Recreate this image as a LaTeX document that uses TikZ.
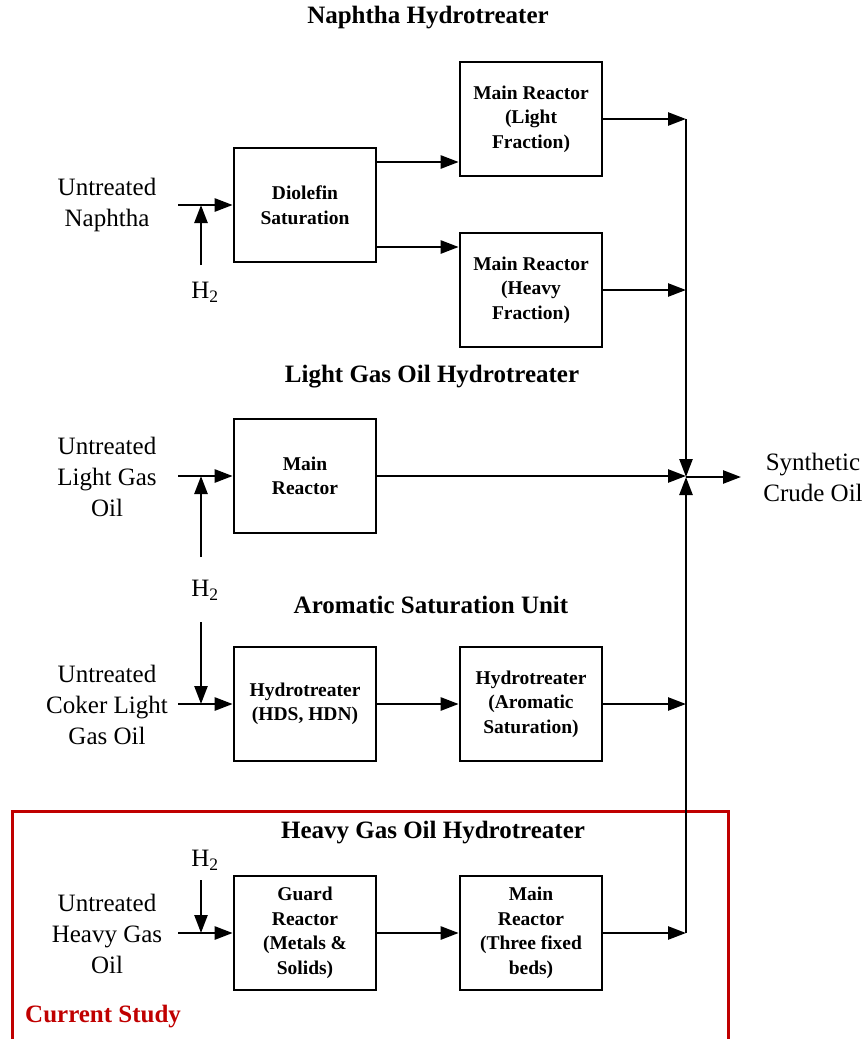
\documentclass[tikz,border=0pt]{standalone}
\usepackage{fontspec}
\setmainfont{Liberation Serif}
\usetikzlibrary{arrows.meta}
\definecolor{studyred}{RGB}{192,0,0}
\begin{document}
\begin{tikzpicture}[x=1pt,y=-1pt,
  box/.style={draw,line width=2.6pt,minimum width=142pt,minimum height=114pt,inner sep=0pt,align=center,font=\fontsize{19.5}{24.5}\selectfont\bfseries},
  lbl/.style={align=center,font=\fontsize{25}{31}\selectfont,inner sep=0pt},
  ttl/.style={font=\fontsize{25}{30}\selectfont\bfseries,inner sep=0pt},
  flow/.style={line width=2.5pt,-{Triangle[length=18pt,width=13pt]}},
  ln/.style={line width=2.5pt}]
\useasboundingbox (0,0) rectangle (867,1039);

% red study frame
\draw[studyred,line width=3pt] (12,1050) -- (12,811) -- (728,811) -- (728,1050);
\node[ttl,text=studyred,anchor=west] (cs) at (25,1017) {Current Study};

% titles
\node[ttl] (t1) at (428,18) {Naphtha Hydrotreater};
\node[ttl] (t2) at (432,377) {Light Gas Oil Hydrotreater};
\node[ttl] (t3) at (431,605) {Aromatic Saturation Unit};
\node[ttl] (t4) at (433,833) {Heavy Gas Oil Hydrotreater};

% boxes
\node[box] (dio) at (305,205) {Diolefin\\Saturation};
\node[box] (mrl) at (531,119) {Main Reactor\\(Light\\Fraction)};
\node[box] (mrh) at (531,290) {Main Reactor\\(Heavy\\Fraction)};
\node[box] (lgo) at (305,476) {Main\\Reactor};
\node[box] (hds) at (305,704) {Hydrotreater\\(HDS, HDN)};
\node[box] (aro) at (531,704) {Hydrotreater\\(Aromatic\\Saturation)};
\node[box] (grd) at (305,933) {Guard\\Reactor\\(Metals \&\\Solids)};
\node[box] (mrt) at (531,933) {Main\\Reactor\\(Three fixed\\beds)};

% left labels
\node[lbl] (nap) at (107,205) {Untreated\\Naphtha};
\node[lbl] (lgol) at (107,477) {Untreated\\Light Gas\\Oil};
\node[lbl] (ckl) at (107,705) {Untreated\\Coker Light\\Gas Oil};
\node[lbl] (hgol) at (107,934) {Untreated\\Heavy Gas\\Oil};
\node[lbl] (sco) at (813,477) {Synthetic\\Crude Oil};

% H2 labels
\node[lbl] (ha) at (205,292) {H\textsubscript{2}};
\node[lbl] (hb) at (205,590) {H\textsubscript{2}};
\node[lbl] (hc) at (205,860) {H\textsubscript{2}};

% coordinates
\coordinate (in1) at (178,205);
\coordinate (in2) at (178,476);
\coordinate (in3) at (178,704);
\coordinate (in4) at (178,933);
\coordinate (h1) at (201,265);
\coordinate (h2) at (201,557);
\coordinate (h3) at (201,622);
\coordinate (h4) at (201,880);
\coordinate (m) at (686,477);
\coordinate (out) at (741,477);

% inputs
\draw[flow] (in1) -- (dio);
\draw[flow] (h1) -- (h1 |- dio.west);
\draw[flow] (in2) -- (lgo);
\draw[flow] (h2) -- (h2 |- lgo.west);
\draw[flow] (in3) -- (hds);
\draw[flow] (h3) -- (h3 |- hds.west);
\draw[flow] (in4) -- (grd);
\draw[flow] (h4) -- (h4 |- grd.west);

% internal
\draw[flow] ([yshift=43pt]dio.east) -- ([yshift=-43pt]mrl.west);
\draw[flow] ([yshift=-42pt]dio.east) -- ([yshift=43pt]mrh.west);
\draw[flow] (hds) -- (aro);
\draw[flow] (grd) -- (mrt);

% outputs to collector
\draw[flow] (mrl.east) -- (mrl.east -| m);
\draw[flow] (mrh.east) -- (mrh.east -| m);
\draw[flow] (mrl.east -| m) -- (m);
\draw[flow] (lgo.east) -- (lgo.east -| m);
\draw[flow] (aro.east) -- (aro.east -| m);
\draw[flow] (mrt.east) -- (mrt.east -| m);
\draw[flow] (mrt.east -| m) -- (m);
\draw[flow] (m) -- (out);
\end{tikzpicture}
\end{document}
